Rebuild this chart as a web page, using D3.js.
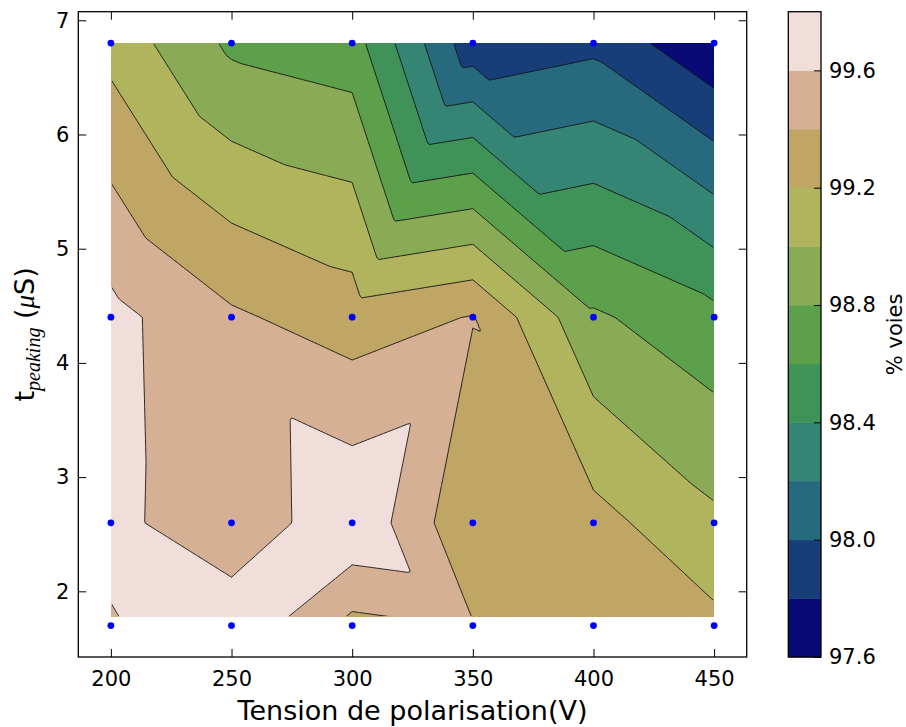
<!DOCTYPE html>
<html>
<head>
<meta charset="utf-8">
<script src="https://cdn.jsdelivr.net/npm/d3@7"></script>
<style>
  body { margin: 0; background: #fff; }
  text { font-family: "DejaVu Sans", sans-serif; fill: #000; }
</style>
</head>
<body>
<svg id="chart" width="906" height="727"></svg>
<script>
// ---------------- data ----------------
const voltages = [200, 250, 300, 350, 400, 450];          // Tension de polarisation (V)
const peakingTimes = [1.7, 2.6, 4.4, 6.8];                // t_peaking (µs)
// % voies, one array per peaking time, one value per voltage
const pctT17 = [99.58, 99.76, 99.34, 99.41, 99.30, 99.25];
const pctT26 = [99.67, 99.42, 99.78, 99.22, 99.27, 99.04];
const pctT44 = [99.66, 99.43, 99.30, 99.41, 98.83, 98.66];
const pctT68 = [99.13, 98.76, 98.69, 97.87, 97.95, 97.63];
// triangulation diagonal of each grid cell (rows follow peakingTimes)
const cellDiagonals = [
  ["\\", "/", "\\", "\\", "\\"],
  ["/", "\\", "/", "\\", "\\"],
  ["/", "\\", "/", "\\", "\\"]
];
const levels = [97.6, 97.8, 98.0, 98.2, 98.4, 98.6, 98.8, 99.0, 99.2, 99.4, 99.6, 99.8];
const colorbarTicks = [97.6, 98.0, 98.4, 98.8, 99.2, 99.6];
const xTicks = [200, 250, 300, 350, 400, 450];
const yTicks = [2, 3, 4, 5, 6, 7];
const gridStartT = 1.775;   // first valid row of the interpolation grid

// ---------------- style ----------------
const bandColors = ["#080a75", "#173e79", "#276a7d", "#348574", "#3f9358", "#5da04b",
                    "#8aab55", "#b0b55d", "#bfa664", "#d6b094", "#f1dedb"];

const svg = d3.select("#chart");
const plot = { left: 78.3, right: 746.7, top: 11.7, bottom: 657 };

const xs = d3.scaleLinear().domain([186.5, 463.5]).range([plot.left, plot.right]);
const ys = d3.scaleLinear().domain([1.425, 7.075]).range([plot.bottom, plot.top]);

const Z = [pctT17, pctT26, pctT44, pctT68];

function field(xv, yv) {
  let i = d3.bisectRight(voltages, xv) - 1;
  i = Math.max(0, Math.min(voltages.length - 2, i));
  let j = d3.bisectRight(peakingTimes, yv) - 1;
  j = Math.max(0, Math.min(peakingTimes.length - 2, j));
  const u = (xv - voltages[i]) / (voltages[i + 1] - voltages[i]);
  const v = (yv - peakingTimes[j]) / (peakingTimes[j + 1] - peakingTimes[j]);
  const z00 = Z[j][i], z10 = Z[j][i + 1], z01 = Z[j + 1][i], z11 = Z[j + 1][i + 1];
  if (cellDiagonals[j][i] === "/") {
    if (v <= u) return z00 + u * (z10 - z00) + v * (z11 - z10);
    return z00 + v * (z01 - z00) + u * (z11 - z01);
  } else {
    if (u + v <= 1) return z00 + u * (z10 - z00) + v * (z01 - z00);
    return z11 + (1 - u) * (z01 - z11) + (1 - v) * (z10 - z11);
  }
}

const [x0, x1] = d3.extent(voltages);
const y1 = d3.max(peakingTimes);
const nx = 251, ny = 252;
const dxs = (x1 - x0) / (nx - 1), dys = (y1 - gridStartT) / (ny - 1);
const values = new Array(nx * ny);
for (let k = 0; k < ny; k++) {
  const yv = gridStartT + k * dys;
  for (let i = 0; i < nx; i++) values[k * nx + i] = field(x0 + i * dxs, yv);
}

const contours = d3.contours().size([nx, ny]).thresholds(levels.slice(0, -1))(values);

const proj = d3.geoTransform({
  point: function (cx, cy) {
    const gx = x0 + Math.max(0, Math.min(nx - 1, cx - 0.5)) * dxs;
    const gy = gridStartT + Math.max(0, Math.min(ny - 1, cy - 0.5)) * dys;
    this.stream.point(xs(gx), ys(gy));
  }
});
const path = d3.geoPath(proj);

// clip paths
const defs = svg.append("defs");
defs.append("clipPath").attr("id", "fillClip").append("rect")
  .attr("x", xs(x0)).attr("y", ys(y1))
  .attr("width", xs(x1) - xs(x0)).attr("height", ys(gridStartT) - ys(y1));
defs.append("clipPath").attr("id", "lineClip").append("rect")
  .attr("x", xs(x0) + 1).attr("y", ys(y1) + 1)
  .attr("width", xs(x1) - xs(x0) - 2).attr("height", ys(gridStartT) - ys(y1) - 2);

// filled bands
svg.append("g").attr("clip-path", "url(#fillClip)")
  .selectAll("path").data(contours).join("path")
  .attr("d", path)
  .attr("fill", (d, k) => bandColors[k])
  .attr("fill-rule", "evenodd")
  .attr("stroke", (d, k) => bandColors[k])
  .attr("stroke-width", 0.3);

// contour lines
svg.append("g").attr("clip-path", "url(#lineClip)")
  .selectAll("path").data(contours.slice(1)).join("path")
  .attr("d", path)
  .attr("fill", "none")
  .attr("stroke", "#111")
  .attr("stroke-width", 0.9);

// measurement points
const pts = [];
peakingTimes.forEach(t => voltages.forEach(vv => pts.push([vv, t])));
svg.append("g").selectAll("circle").data(pts).join("circle")
  .attr("cx", d => xs(d[0])).attr("cy", d => ys(d[1]))
  .attr("r", 3.4).attr("fill", "#0000ff");

// axes
const fs = 21;
const gB = svg.append("g").attr("transform", `translate(0,${plot.bottom})`)
  .call(d3.axisBottom(xs).tickValues(xTicks).tickSize(-8).tickPadding(14).tickFormat(d3.format("d")));
const gT = svg.append("g").attr("transform", `translate(0,${plot.top})`)
  .call(d3.axisTop(xs).tickValues(xTicks).tickSize(-8).tickFormat(""));
const gL = svg.append("g").attr("transform", `translate(${plot.left},0)`)
  .call(d3.axisLeft(ys).tickValues(yTicks).tickSize(-8).tickPadding(9).tickFormat(d3.format("d")));
const gR = svg.append("g").attr("transform", `translate(${plot.right},0)`)
  .call(d3.axisRight(ys).tickValues(yTicks).tickSize(-8).tickFormat(""));
[gB, gT, gL, gR].forEach(g => {
  g.select(".domain").remove();
  g.selectAll(".tick line").attr("stroke", "#000").attr("stroke-width", 1);
  g.selectAll(".tick text").attr("font-family", "DejaVu Sans").attr("font-size", fs).attr("fill", "#000");
});
svg.append("rect")
  .attr("x", plot.left).attr("y", plot.top)
  .attr("width", plot.right - plot.left).attr("height", plot.bottom - plot.top)
  .attr("fill", "none").attr("stroke", "#000").attr("stroke-width", 1.3);

// axis labels
svg.append("text")
  .attr("x", (plot.left + plot.right) / 2).attr("y", 720)
  .attr("text-anchor", "middle").attr("font-size", 27)
  .text("Tension de polarisation(V)");

const yl = svg.append("text")
  .attr("transform", `translate(34,${(plot.top + plot.bottom) / 2}) rotate(-90)`)
  .attr("text-anchor", "middle").attr("font-size", 27);
yl.append("tspan").text("t");
yl.append("tspan").attr("font-family", "Liberation Serif").attr("font-style", "italic")
  .attr("font-size", 20).attr("dy", 6).text("peaking");
yl.append("tspan").attr("dy", -6).text(" (");
yl.append("tspan").attr("font-family", "Liberation Serif").attr("font-style", "italic").text("μ");
yl.append("tspan").text("S)");

// colorbar
const cb = { left: 788.3, right: 821, top: 11.7, bottom: 657 };
const cs = d3.scaleLinear().domain([levels[0], levels[levels.length - 1]]).range([cb.bottom, cb.top]);
const bands = d3.range(levels.length - 1);
svg.append("g").selectAll("rect").data(bands).join("rect")
  .attr("x", cb.left).attr("width", cb.right - cb.left)
  .attr("y", k => cs(levels[k + 1])).attr("height", k => cs(levels[k]) - cs(levels[k + 1]) + 0.5)
  .attr("fill", k => bandColors[k]);
svg.append("rect")
  .attr("x", cb.left).attr("y", cb.top)
  .attr("width", cb.right - cb.left).attr("height", cb.bottom - cb.top)
  .attr("fill", "none").attr("stroke", "#000").attr("stroke-width", 1.3);
const gC = svg.append("g").attr("transform", `translate(${cb.right},0)`)
  .call(d3.axisRight(cs).tickValues(colorbarTicks).tickSize(-7).tickPadding(8).tickFormat(d3.format(".1f")));
gC.select(".domain").remove();
gC.selectAll(".tick line").attr("stroke", "#000");
gC.selectAll(".tick text").attr("font-family", "DejaVu Sans").attr("font-size", fs).attr("fill", "#000");

svg.append("text")
  .attr("transform", `translate(902,${(cb.top + cb.bottom) / 2}) rotate(-90)`)
  .attr("text-anchor", "middle").attr("font-size", fs)
  .text("% voies");
</script>
</body>
</html>
